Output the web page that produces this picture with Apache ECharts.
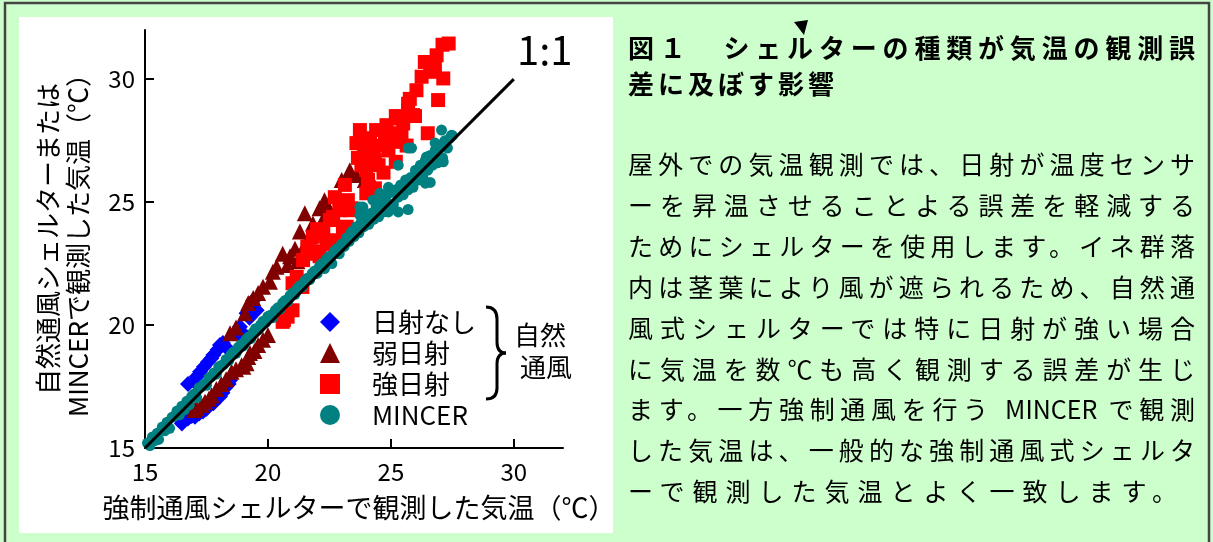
<!DOCTYPE html>
<html><head><meta charset="utf-8">
<script src="https://cdn.jsdelivr.net/npm/echarts@6/dist/echarts.min.js"></script>
<style>
html,body{margin:0;padding:0;width:1213px;height:542px;overflow:hidden;background:#ccffcc;}
#chart{position:absolute;left:0;top:0;width:1213px;height:542px;}
#panel{position:absolute;left:628px;top:0;width:567px;height:542px;font-family:"Noto Sans CJK JP",sans-serif;color:#000;z-index:5;}
.t{position:absolute;left:0;width:567px;font-size:26px;font-weight:bold;line-height:34px;}
.j{text-align:justify;text-align-last:justify;}
.b{position:absolute;left:0;width:567px;font-size:25px;line-height:34px;}
</style>
</head><body>
<div id="chart"></div>
<div id="panel"></div>
<script>
// ---------- data ----------
const xTicks = [15, 20, 25, 30];
const yTicks = [15, 20, 25, 30];
const seriesNames = ['日射なし', '弱日射', '強日射', 'MINCER'];
const xName = '強制通風シェルターで観測した気温（℃）';
const yName = '自然通風シェルターまたは\nMINCERで観測した気温（℃）';
const titleLines = ['図１　シェルターの種類が気温の観測誤', '差に及ぼす影響'];
const bodyLines = [
  '屋外での気温観測では、日射が温度センサ',
  'ーを昇温させることよる誤差を軽減する',
  'ためにシェルターを使用します。イネ群落',
  '内は茎葉により風が遮られるため、自然通',
  '風式シェルターでは特に日射が強い場合',
  'に気温を数℃も高く観測する誤差が生じ',
  'ます。一方強制通風を行う MINCER で観測',
  'した気温は、一般的な強制通風式シェルタ',
  'ーで観測した気温とよく一致します。'
];
const oneToOne = [[15, 15], [30, 30]];

const noSun = [
  [16.4,16.2],[16.5,16.0],[16.6,16.15],[16.75,16.2],[16.9,16.3],[17.03,16.27],[17.2,16.4],[17.36,16.48],
  [17.5,16.6],[17.6,16.75],[17.78,16.82],[17.9,17.0],[18.05,17.09],[18.15,17.25],[18.25,17.44],[18.4,17.6],
  [18.46,17.76],[16.75,17.6],[17.0,17.7],[17.1,17.9],[17.24,18.1],[17.4,18.3],[17.56,18.5],[17.7,18.65],
  [17.78,18.78],[17.95,19.0],[18.05,19.19],[18.17,19.27],[18.3,19.1],[18.8,19.67],[18.86,19.93],[18.98,19.67],
  [19.13,20.48],[19.25,20.3],[19.4,21.0],[19.54,20.6]
];
const weakSun = [
  [17.0,16.55],[17.1,16.63],[17.3,16.75],[17.44,16.88],[17.6,17.0],[17.71,17.15],[17.9,17.4],[18.1,17.6],
  [18.3,17.8],[18.52,18.1],[18.7,18.2],[18.93,18.37],[19.0,18.3],[19.13,18.45],[19.2,18.7],[19.27,18.86],
  [19.45,18.95],[19.6,19.19],[19.8,19.4],[20.0,19.6],
  [18.46,19.67],[18.7,19.9],[19.07,20.48],[19.2,20.9],[19.4,21.1],[19.6,21.3],[19.8,21.56],[20.08,21.76],
  [20.2,22.17],[20.35,22.37],[20.6,22.9],[20.8,22.44],[20.9,22.8],[21.1,23.1],[21.2,22.6],[21.3,23.8],
  [21.5,24.55],[21.5,23.25],[21.7,23.6],[21.83,24.13],[22.1,24.75],[22.4,24.88],[22.3,25.08],[22.3,24.4],
  [22.5,24.67],[23.0,25.9],[23.33,26.3],[23.6,26.1],[23.94,25.9],[24.27,25.77]
];
const strongSun = [
  [20.6,20.13],[20.65,20.2],[20.8,20.34],[21.0,20.6],[21.4,21.55],[21.0,21.7],[21.17,21.96],[21.43,22.64],
  [21.7,22.9],[21.6,23.2],[21.9,23.0],[22.1,22.8],[21.83,23.59],[22.0,23.9],[22.25,23.74],[22.4,23.3],
  [22.65,24.4],[22.8,23.45],[22.9,24.95],[23.2,24.0],[23.33,24.67],[22.52,24.27],[23.05,23.94],[22.93,24.67],
  [23.4,24.75],[22.72,25.2],[23.25,25.08],[23.13,25.7],[24.0,25.36],[24.07,25.9],[24.35,25.56],[24.0,26.3],
  [24.7,26.2],[24.35,26.7],[23.66,26.8],[23.8,26.5],[24.5,26.5],[23.9,27.0],[24.3,27.1],[24.9,27.1],
  [25.2,26.64],[23.6,27.4],[24.15,27.4],[24.6,27.3],[25.16,27.45],[25.64,27.3],[24.0,27.6],[23.74,27.93],
  [24.4,27.93],[24.76,27.8],[24.96,27.8],[25.43,27.66],[26.5,27.8],[24.82,28.13],[25.5,28.2],[25.23,28.4],
  [25.9,28.54],[25.2,28.5],[25.98,28.5],[25.7,28.74],[25.7,29.0],[25.77,29.2],[26.92,29.15],[26.04,29.55],
  [26.25,30.1],[27.13,30.03],[26.6,30.3],[26.79,30.5],[26.38,30.7],[26.86,30.97],[27.1,31.4],[27.35,31.45]
];
const mincer = [
  [15.1,15.2],[15.2,15.1],[15.3,15.45],[15.4,15.3],[15.5,15.6],[15.55,15.35],[15.7,15.85],[15.8,15.7],
  [15.9,16.05],[16.0,15.8],[16.1,16.25],[16.2,16.3],[16.3,16.5],[16.4,16.35],[16.5,16.7],[16.6,16.55],
  [16.7,16.9],[16.8,16.75],[16.9,17.1],[17.0,17.2],[17.1,17.05],[17.2,17.45],[17.3,17.5],[17.4,17.6],
  [17.5,17.55],[17.6,17.85],[17.7,17.9],[17.8,18.05],[17.9,18.0],[18.0,18.3],[18.1,18.35],[18.2,18.4],
  [18.3,18.6],[18.4,18.55],[18.5,18.8],[18.6,18.9],[18.7,18.85],[18.8,19.1],[18.9,19.2],[19.0,19.15],
  [19.1,19.4],[19.2,19.5],[19.3,19.45],[19.4,19.7],[19.5,19.85],[19.6,19.8],[19.7,20.0],[19.8,20.15],
  [19.9,20.1],[20.0,20.35],[20.1,20.4],[20.2,20.3],[20.3,20.6],[20.4,20.7],[20.5,20.65],[20.6,20.9],
  [20.7,21.0],[20.8,20.95],[20.9,21.2],[21.0,21.3],[21.1,21.25],[21.2,21.5],[21.3,21.6],[21.4,21.55],
  [21.5,21.8],[21.6,21.9],[21.7,21.85],[21.8,22.1],[21.9,22.2],[22.0,22.1],[22.1,22.4],[22.2,22.5],
  [22.3,22.3],[22.4,22.7],[22.5,22.8],[22.6,22.5],[22.7,23.0],[22.8,23.1],[22.9,22.9],[23.0,23.3],
  [23.1,23.2],[23.2,23.55],[23.3,23.4],[23.4,23.8],[23.5,23.6],[23.6,24.0],[23.7,23.75],[23.8,24.2],
  [23.9,24.0],[24.0,24.4],[24.1,24.1],[24.2,24.55],[24.3,24.3],[24.4,24.8],[24.5,24.4],[24.6,25.0],
  [24.7,24.6],[24.8,25.2],[24.9,24.8],[25.0,25.4],[25.1,24.9],[25.2,25.5],[25.3,25.2],[25.4,25.7],
  [25.5,25.3],[25.6,25.9],[25.7,25.5],[25.8,26.0],[25.9,25.6],[26.0,26.3],[26.1,25.9],[26.2,26.5],
  [26.3,26.0],[26.4,26.7],[26.5,26.3],[26.6,26.9],[26.7,26.5],[26.8,27.1],[26.9,26.6],[27.0,27.3],
  [27.1,26.8],[27.2,27.5],[27.3,27.2],[27.4,27.6],[27.5,27.7],
  [23.74,24.8],[23.86,24.8],[24.27,25.08],[24.55,25.36],[24.9,25.6],[25.3,26.5],[25.7,27.2],[25.84,27.2],
  [27.06,27.93],[27.47,27.72],[26.8,27.4],[26.86,27.11],[26.45,26.84],[26.18,26.03],[26.4,25.77],[26.6,25.8],
  [27.1,26.7],[27.13,26.64],[25.7,24.7],[25.3,24.6],[24.9,24.6],[23.74,24.47]
];

// ---------- right panel text ----------
const panel = document.getElementById('panel');
const titleCenters = [47, 83];
titleLines.forEach((s, i) => {
  const d = document.createElement('div');
  d.className = 't' + (i === 0 ? ' j' : '');
  if (i !== 0) d.style.letterSpacing = '4px';
  d.style.top = (titleCenters[i] - 17) + 'px';
  d.textContent = s;
  panel.appendChild(d);
});
bodyLines.forEach((s, i) => {
  const d = document.createElement('div');
  const last = i === bodyLines.length - 1;
  d.className = 'b' + (last ? '' : ' j');
  if (last) d.style.letterSpacing = '8px';
  d.style.top = (163 + 40.9 * i - 17) + 'px';
  d.textContent = s;
  panel.appendChild(d);
});

// ---------- chart ----------
const FONT = '"Noto Sans CJK JP", sans-serif';
const chart = echarts.init(document.getElementById('chart'), null, {renderer: 'canvas'});
const axisCommon = {
  type: 'value', min: 15, max: 32, interval: 5,
  nameLocation: 'middle',
  axisLine: {show: true, onZero: false, lineStyle: {color: '#000', width: 2}},
  splitLine: {show: false}
};
const braceStyle = {fill: 'none', stroke: '#000', lineWidth: 3};
chart.setOption({
  animation: false,
  backgroundColor: 'transparent',
  textStyle: {fontFamily: FONT},
  grid: {left: 145, top: 30, width: 418, height: 418, containLabel: false},
  xAxis: Object.assign({}, axisCommon, {
    name: xName, nameGap: 45,
    nameTextStyle: {fontSize: 27, color: '#000', fontFamily: FONT, lineHeight: 30, padding: [0, 0, 0, 10]},
    axisTick: {inside: true, length: 9, customValues: xTicks, lineStyle: {color: '#000', width: 2}},
    axisLabel: {customValues: xTicks, fontSize: 24, color: '#000', margin: 12, fontFamily: FONT}
  }),
  yAxis: Object.assign({}, axisCommon, {
    name: yName, nameGap: 52, nameRotate: 90,
    nameTextStyle: {fontSize: 26, color: '#000', fontFamily: FONT, lineHeight: 30},
    axisTick: {inside: true, length: 9, customValues: yTicks, lineStyle: {color: '#000', width: 2}},
    axisLabel: {customValues: yTicks, fontSize: 24, color: '#000', margin: 10, fontFamily: FONT}
  }),
  legend: {
    orient: 'vertical', left: 320, top: 309, padding: 0, itemWidth: 20, itemHeight: 20, itemGap: 5,
    textStyle: {fontSize: 26, color: '#000', fontFamily: FONT, padding: [0, 0, 0, 27]},
    data: [
      {name: seriesNames[0], icon: 'diamond'},
      {name: seriesNames[1], icon: 'triangle'},
      {name: seriesNames[2], icon: 'rect'},
      {name: seriesNames[3], icon: 'circle'}
    ]
  },
  graphic: [
    {type: 'rect', z: -20, silent: true, shape: {x: 19, y: 17, width: 594, height: 516}, style: {fill: '#ffffff'}},
    {type: 'rect', z: 50, silent: true, shape: {x: 5, y: 3, width: 1204, height: 560}, style: {fill: 'none', stroke: '#444444', lineWidth: 2.5}},
    {type: 'text', z: 50, silent: true, x: 517, y: 30, style: {text: '1:1', fontSize: 40, fill: '#000', fontFamily: FONT}},
    {type: 'bezierCurve', z: 50, silent: true, shape: {x1: 486, y1: 307, cpx1: 497, cpy1: 307, x2: 497, y2: 319}, style: braceStyle},
    {type: 'line', z: 50, silent: true, shape: {x1: 497, y1: 319, x2: 497, y2: 342}, style: braceStyle},
    {type: 'bezierCurve', z: 50, silent: true, shape: {x1: 497, y1: 342, cpx1: 497, cpy1: 353, x2: 506, y2: 353}, style: braceStyle},
    {type: 'bezierCurve', z: 50, silent: true, shape: {x1: 506, y1: 353, cpx1: 497, cpy1: 353, x2: 497, y2: 364}, style: braceStyle},
    {type: 'line', z: 50, silent: true, shape: {x1: 497, y1: 364, x2: 497, y2: 388}, style: braceStyle},
    {type: 'bezierCurve', z: 50, silent: true, shape: {x1: 497, y1: 388, cpx1: 497, cpy1: 399, x2: 486, y2: 399}, style: braceStyle},
    {type: 'text', z: 50, silent: true, x: 514, y: 322, style: {text: '自然', fontSize: 26, fill: '#000', fontFamily: FONT}},
    {type: 'text', z: 50, silent: true, x: 520, y: 354, style: {text: '通風', fontSize: 26, fill: '#000', fontFamily: FONT}},
    {type: 'polygon', z: 50, silent: true, shape: {points: [[794, 22], [808, 20], [804, 35]]}, style: {fill: '#000'}}
  ],
  series: [
    {name: seriesNames[0], type: 'scatter', symbol: 'diamond', symbolSize: 16, data: noSun, itemStyle: {color: '#0000ff', opacity: 1}},
    {name: seriesNames[1], type: 'scatter', symbol: 'triangle', symbolSize: 16, data: weakSun, itemStyle: {color: '#800000', opacity: 1}},
    {name: seriesNames[2], type: 'scatter', symbol: 'rect', symbolSize: 14, data: strongSun, itemStyle: {color: '#ff0000', opacity: 1}},
    {name: seriesNames[3], type: 'scatter', symbol: 'circle', symbolSize: 11, data: mincer, itemStyle: {color: '#008080', opacity: 1}},
    {name: '1:1', type: 'line', data: oneToOne, showSymbol: false, symbol: 'none', silent: true, z: 5,
     lineStyle: {color: '#000', width: 3}}
  ]
});
</script>
</body></html>
